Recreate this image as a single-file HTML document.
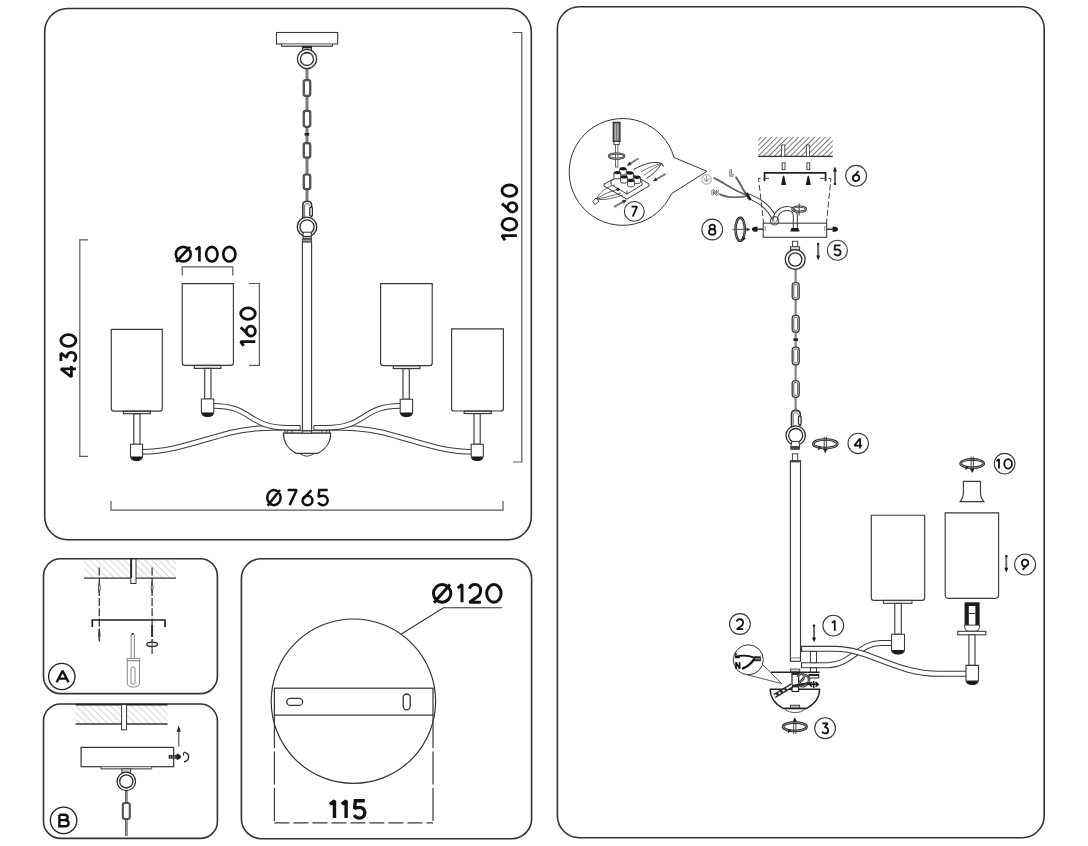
<!DOCTYPE html>
<html><head><meta charset="utf-8">
<style>
html,body{margin:0;padding:0;background:#fff;width:1088px;height:846px;overflow:hidden}
svg{display:block}
text{font-family:"Liberation Sans",sans-serif;fill:#111;stroke:#111;stroke-width:0.55px}
</style></head><body>
<svg width="1088" height="846" viewBox="0 0 1088 846">
<defs>
<pattern id="hatchL" patternUnits="userSpaceOnUse" width="4.9" height="4.9" patternTransform="rotate(-45)">
<line x1="0" y1="0" x2="0" y2="4.9" stroke="#b8b8b8" stroke-width="1.1"/></pattern>
<pattern id="hatchD" patternUnits="userSpaceOnUse" width="3.8" height="3.8" patternTransform="rotate(45)">
<line x1="0" y1="0" x2="0" y2="3.8" stroke="#333" stroke-width="1.3"/></pattern>
</defs>
<rect width="1088" height="846" fill="#fff"/>
<g fill="none" stroke="#333" stroke-width="1.6">
<rect x="44.7" y="8.5" width="486.6" height="531.2" rx="23"/>
<rect x="43.5" y="558.8" width="173.9" height="134.8" rx="17"/>
<rect x="43.5" y="704" width="173.9" height="134.4" rx="17"/>
<rect x="241.4" y="558.7" width="290.2" height="280" rx="20"/>
<rect x="557.4" y="6.8" width="486.8" height="830.9" rx="22"/>
</g>
<g fill="none" stroke="#5a5a5a" stroke-width="1.2">
<path d="M88,239.8 H79.8 V456.3 H88"/>
<path d="M512.5,32.5 H521.8 V462 H513"/>
<path d="M182.2,275.5 V266.8 H232.8 V275.5"/>
<path d="M249,283.5 H259.4 V365.3 H249"/>
<path d="M111,501 V510.1 H503 V501"/>
</g>
<g transform="translate(59.5,378.4) rotate(-90)"><path d="M 9.47,16.40 V 1.40 L 1.40,11.90 H 12.30 M 17.35,1.40 H 25.26 L 20.85,7.40 C 23.98,7.10 26.00,9.35 26.00,11.90 C 26.00,14.60 23.98,16.40 21.40,16.40 C 19.56,16.40 17.90,15.50 16.80,13.85 M32.10,8.90 A5.85,7.50 0 1 0 43.80,8.90 A5.85,7.50 0 1 0 32.10,8.90 Z" fill="none" stroke="#111" stroke-width="2.8" stroke-linecap="butt" stroke-linejoin="miter" stroke-miterlimit="1.6"/></g>
<g transform="translate(500.6,241.6) rotate(-90)"><path d="M 1.40,4.38 L 5.90,1.40 V 16.30 M11.50,8.85 A5.85,7.45 0 1 0 23.20,8.85 A5.85,7.45 0 1 0 11.50,8.85 Z M29.60,11.68 A4.65,4.62 0 1 0 38.90,11.68 A4.65,4.62 0 1 0 29.60,11.68 Z M 37.97,1.40 L 29.79,10.64 M45.30,8.85 A5.65,7.45 0 1 0 56.60,8.85 A5.65,7.45 0 1 0 45.30,8.85 Z" fill="none" stroke="#111" stroke-width="2.8" stroke-linecap="butt" stroke-linejoin="miter" stroke-miterlimit="1.6"/></g>
<g transform="translate(239.3,347.3) rotate(-90)"><path d="M 1.40,4.32 L 5.70,1.40 V 16.00 M11.20,11.47 A4.95,4.53 0 1 0 21.10,11.47 A4.95,4.53 0 1 0 11.20,11.47 Z M 20.11,1.40 L 11.40,10.45 M28.00,8.70 A5.70,7.30 0 1 0 39.40,8.70 A5.70,7.30 0 1 0 28.00,8.70 Z" fill="none" stroke="#111" stroke-width="2.8" stroke-linecap="butt" stroke-linejoin="miter" stroke-miterlimit="1.6"/></g>
<path d="M175.82,254.15 A7.42,7.33 0 1 0 190.68,254.15 A7.42,7.33 0 1 0 175.82,254.15 Z M 176.27,261.91 L 189.93,246.82 M 195.52,249.75 L 199.47,246.82 V 261.48 M206.12,254.15 A5.72,7.33 0 1 0 217.57,254.15 A5.72,7.33 0 1 0 206.12,254.15 Z M223.32,254.15 A6.02,7.33 0 1 0 235.38,254.15 A6.02,7.33 0 1 0 223.32,254.15 Z" fill="none" stroke="#111" stroke-width="2.65" stroke-linecap="butt" stroke-linejoin="miter" stroke-miterlimit="1.6"/>
<path d="M267.25,497.60 A6.70,7.55 0 1 0 280.65,497.60 A6.70,7.55 0 1 0 267.25,497.60 Z M 267.65,505.60 L 279.98,490.05 M 287.65,490.05 H 296.65 L 289.63,505.15 M302.55,500.47 A4.95,4.68 0 1 0 312.45,500.47 A4.95,4.68 0 1 0 302.55,500.47 Z M 311.46,490.05 L 302.75,499.41 M 327.65,490.05 H 319.29 L 318.53,496.84 C 319.86,496.09 321.28,495.79 322.71,495.79 C 325.75,495.64 327.65,497.90 327.65,500.47 C 327.65,503.34 325.56,505.15 322.90,505.15 C 321.00,505.15 319.29,504.24 318.15,502.58" fill="none" stroke="#111" stroke-width="2.5" stroke-linecap="butt" stroke-linejoin="miter" stroke-miterlimit="1.6"/>
<g fill="none" stroke="#3a3a3a" stroke-width="1.1">
<rect x="276.5" y="32.5" width="61.2" height="11.5" fill="#fff"/>
<path d="M281.5,44 V46.4 H332.5 V44" fill="#bbb" stroke-width="0.9"/>
</g>
<rect x="302.4" y="46.4" width="9" height="6.4" fill="#fff" stroke="#333" stroke-width="1.1"/>
<rect x="302.4" y="46.4" width="9" height="2" fill="#222"/>
<line x1="307" y1="67.5" x2="307" y2="202" stroke="#5a5a5a" stroke-width="2.8"/>
<line x1="307" y1="67.5" x2="307" y2="202" stroke="#9a9a9a" stroke-width="1.12"/>
<circle cx="307" cy="59" r="8.05" fill="none" stroke="#2a2a2a" stroke-width="4.40"/>
<circle cx="307" cy="59" r="8.05" fill="none" stroke="#fff" stroke-width="1.80"/>
<rect x="303.75" y="80.10" width="6.50" height="15.80" rx="2.2" fill="#fff" stroke="#3a3a3a" stroke-width="2.2"/>
<rect x="303.75" y="80.10" width="6.50" height="15.80" rx="2.2" fill="none" stroke="#888" stroke-width="0.5"/>
<rect x="303.75" y="110.90" width="6.50" height="15.90" rx="2.2" fill="#fff" stroke="#3a3a3a" stroke-width="2.2"/>
<rect x="303.75" y="110.90" width="6.50" height="15.90" rx="2.2" fill="none" stroke="#888" stroke-width="0.5"/>
<rect x="303.75" y="143.10" width="6.50" height="14.60" rx="2.2" fill="#fff" stroke="#3a3a3a" stroke-width="2.2"/>
<rect x="303.75" y="143.10" width="6.50" height="14.60" rx="2.2" fill="none" stroke="#888" stroke-width="0.5"/>
<rect x="303.75" y="174.50" width="6.50" height="14.60" rx="2.2" fill="#fff" stroke="#3a3a3a" stroke-width="2.2"/>
<rect x="303.75" y="174.50" width="6.50" height="14.60" rx="2.2" fill="none" stroke="#888" stroke-width="0.5"/>
<rect x="304.6" y="133" width="4.6" height="2.6" fill="#222"/>
<path d="M302.8,219 V205 Q302.8,201.2 307,201.2 Q311.6,201.2 311.6,205 V217" fill="#fff" stroke="#3a3a3a" stroke-width="1.6"/>
<path d="M304.6,217 V206 Q304.6,203.5 307,203.5 Q309.6,203.5 309.6,206" fill="none" stroke="#555" stroke-width="0.8"/>
<rect x="309.8" y="207.2" width="2.6" height="9" rx="1.2" fill="#fff" stroke="#222" stroke-width="1.2"/>
<circle cx="307" cy="226.9" r="8.43" fill="none" stroke="#2a2a2a" stroke-width="3.95"/>
<circle cx="307" cy="226.9" r="8.43" fill="none" stroke="#fff" stroke-width="1.35"/>
<rect x="303.1" y="232.2" width="8.2" height="6.8" fill="#fff" stroke="#333" stroke-width="1"/>
<line x1="303.2" y1="236.5" x2="311.2" y2="236.5" stroke="#222" stroke-width="1.2"/><line x1="303.2" y1="238.3" x2="311.2" y2="238.3" stroke="#444" stroke-width="0.9"/>
<rect x="302.6" y="239" width="8.8" height="3.4" fill="#999" stroke="#333" stroke-width="0.9"/>
<g fill="none" stroke="#3a3a3a" stroke-width="1.15">
<rect x="302.4" y="242" width="9.2" height="190.5" fill="#fff"/>
<rect x="194.3" y="365.4" width="26.6" height="3" fill="#e5e5e5"/>
<rect x="123.4" y="411.1" width="27" height="2.6" fill="#e5e5e5"/>
<rect x="393.3" y="365.6" width="26.6" height="3" fill="#e5e5e5"/>
<rect x="464.2" y="411" width="27" height="2.6" fill="#e5e5e5"/>
<rect x="204.7" y="368.4" width="6.3" height="30.6"/>
<rect x="133.8" y="413.7" width="6.2" height="30.6"/>
<rect x="403" y="368.6" width="6.3" height="30.6"/>
<rect x="474" y="413.6" width="6.2" height="30.6"/>
</g>
<path d="M182.2,283.6 H233.4 V362.80 Q233.4,365.4 230.80,365.4 H184.80 Q182.2,365.4 182.2,362.80 Z" fill="none" stroke="#3a3a3a" stroke-width="1.15"/>
<path d="M111.3,329.3 H162.3 V408.50 Q162.3,411.1 159.70,411.1 H113.90 Q111.3,411.1 111.3,408.50 Z" fill="none" stroke="#3a3a3a" stroke-width="1.15"/>
<path d="M380.6,283.6 H432.2 V363.00 Q432.2,365.6 429.60,365.6 H383.20 Q380.6,365.6 380.6,363.00 Z" fill="none" stroke="#3a3a3a" stroke-width="1.15"/>
<path d="M451.6,328.8 H503.4 V408.40 Q503.4,411 500.80,411 H454.20 Q451.6,411 451.6,408.40 Z" fill="none" stroke="#3a3a3a" stroke-width="1.15"/>
<path d="M142.2,451.8 C172,451.8 200,440.5 230,432.8 C252,427.5 268,427.75 290,427.75" fill="none" stroke="#3a3a3a" stroke-width="5.60"/>
<path d="M142.2,451.8 C172,451.8 200,440.5 230,432.8 C252,427.5 268,427.75 290,427.75" fill="none" stroke="#fff" stroke-width="3.60"/>
<path d="M471.8,451.8 C442,451.8 414,440.5 384,432.8 C362,427.5 346,427.75 324,427.75" fill="none" stroke="#3a3a3a" stroke-width="5.60"/>
<path d="M471.8,451.8 C442,451.8 414,440.5 384,432.8 C362,427.5 346,427.75 324,427.75" fill="none" stroke="#fff" stroke-width="3.60"/>
<path d="M213.5,405.85 C253,405.85 247,427.75 288,427.75 L300.6,427.75" fill="none" stroke="#3a3a3a" stroke-width="5.6"/><path d="M213.5,405.85 C253,405.85 247,427.75 288,427.75 L299.6,427.75" fill="none" stroke="#fff" stroke-width="3.6"/>
<path d="M400.5,405.85 C361,405.85 367,427.75 326,427.75 L313.4,427.75" fill="none" stroke="#3a3a3a" stroke-width="5.6"/><path d="M400.5,405.85 C361,405.85 367,427.75 326,427.75 L314.4,427.75" fill="none" stroke="#fff" stroke-width="3.6"/>
<path d="M201.4,399 H213.8 V411.90 Q213.8,416.4 207.60,416.4 Q201.4,416.4 201.4,411.90 Z" fill="#fff" stroke="#3a3a3a" stroke-width="1.1"/>
<path d="M201.80,412.40 H213.40 Q213.00,416.70 207.60,416.70 Q202.20,416.70 201.80,412.40 Z" fill="#1a1a1a"/>
<path d="M130.5,444.3 H142.6 V455.90 Q142.6,460.4 136.55,460.4 Q130.5,460.4 130.5,455.90 Z" fill="#fff" stroke="#3a3a3a" stroke-width="1.1"/>
<path d="M130.90,456.40 H142.20 Q141.80,460.70 136.55,460.70 Q131.30,460.70 130.90,456.40 Z" fill="#1a1a1a"/>
<path d="M400.2,399.2 H412.6 V412.10 Q412.6,416.6 406.40,416.6 Q400.2,416.6 400.2,412.10 Z" fill="#fff" stroke="#3a3a3a" stroke-width="1.1"/>
<path d="M400.60,412.60 H412.20 Q411.80,416.90 406.40,416.90 Q401.00,416.90 400.60,412.60 Z" fill="#1a1a1a"/>
<path d="M471.2,444.2 H483.3 V455.90 Q483.3,460.4 477.25,460.4 Q471.2,460.4 471.2,455.90 Z" fill="#fff" stroke="#3a3a3a" stroke-width="1.1"/>
<path d="M471.60,456.40 H482.90 Q482.50,460.70 477.25,460.70 Q472.00,460.70 471.60,456.40 Z" fill="#1a1a1a"/>
<g fill="#fff" stroke="#3a3a3a" stroke-width="1.1">
<rect x="285" y="430.6" width="44.4" height="2.6"/>
<path d="M287.5,430.6 V433.2 M292,430.6 V433.2 M322,430.6 V433.2 M326.5,430.6 V433.2" fill="none" stroke-width="0.8"/>
<path d="M283.4,433.2 H330.7 C330.7,442 325.5,449.5 317.7,453.4 H296 C288.5,449.5 283.4,442 283.4,433.2 Z" stroke-width="1.25"/>
<path d="M300,453.6 Q307,458.8 314,453.6" fill="none" stroke-width="1"/>
<rect x="302.4" y="430.8" width="9.2" height="2.4" fill="#ccc" stroke-width="0.9"/>
</g>
<rect x="84.2" y="559.6" width="91.8" height="18.6" fill="url(#hatchL)"/>
<line x1="84.1" y1="578.2" x2="176" y2="578.2" stroke="#333" stroke-width="1.3"/>
<rect x="130.8" y="559" width="5.2" height="24.5" fill="#fff" stroke="#333" stroke-width="1"/>
<line x1="131.3" y1="559" x2="131.3" y2="578" stroke="#222" stroke-width="1.6"/>
<g stroke="#3a3a3a" stroke-width="1.3" stroke-dasharray="8,2.2">
<line x1="99.3" y1="567.5" x2="99.3" y2="641.6"/>
<line x1="152.1" y1="567.5" x2="152.1" y2="653.9"/>
</g>
<g fill="#fff" stroke="#444" stroke-width="1">
<path d="M99.3,582 Q101.2,587.5 99.3,593.5 Q97.4,587.5 99.3,582 Z"/>
<path d="M152.1,581.9 Q154,587.5 152.1,593.1 Q150.2,587.5 152.1,581.9 Z"/>
</g>
<path d="M99.3,628.5 Q100.9,634.5 99.3,640.5 Q97.7,634.5 99.3,628.5 Z" fill="#555" stroke="#333" stroke-width="0.8"/>
<line x1="152.1" y1="625" x2="152.1" y2="637" stroke="#333" stroke-width="2"/>
<path d="M92.3,627 V620 H165 V627" fill="none" stroke="#222" stroke-width="1.7"/>
<ellipse cx="152.1" cy="644.3" rx="5.3" ry="2.2" fill="#fff" stroke="#222" stroke-width="1.3"/>
<line x1="152.1" y1="640" x2="152.1" y2="649" stroke="#444" stroke-width="1"/>
<g fill="#fff" stroke="#888" stroke-width="1">
<path d="M131.1,658.4 V635 L132.8,633 L134.4,635 V658.4"/>
<rect x="127.1" y="658.4" width="12.6" height="2.4"/>
<path d="M127.3,660.8 H139.5 V683 Q139.5,687.1 133.4,687.1 Q127.3,687.1 127.3,683 Z"/>
<rect x="131" y="666.9" width="4" height="17.4" rx="2"/>
</g>
<circle cx="132.8" cy="634" r="1.1" fill="#333"/>
<circle cx="61.8" cy="676.5" r="13.2" fill="none" stroke="#222" stroke-width="1.3"/>
<path d="M 56.70,682.30 L 62.60,670.70 L 68.50,682.30 M 59.06,678.59 H 66.14" fill="none" stroke="#111" stroke-width="2.4" stroke-linecap="butt" stroke-linejoin="miter" stroke-miterlimit="1.6"/>
<rect x="75.6" y="704.8" width="92" height="19.2" fill="url(#hatchL)"/>
<line x1="75.6" y1="704.6" x2="167.6" y2="704.6" stroke="#222" stroke-width="1.8"/>
<line x1="75.6" y1="724" x2="167.6" y2="724" stroke="#333" stroke-width="1.4"/>
<rect x="121.6" y="704.5" width="5" height="25.3" fill="#fff" stroke="#333" stroke-width="1"/>
<rect x="81.1" y="747.4" width="92.6" height="19.3" fill="#fff" stroke="#333" stroke-width="1.2"/>
<path d="M100.9,766.7 V768.9 H151.7 V766.7" fill="#e0e0e0" stroke="#444" stroke-width="1"/>
<rect x="121.9" y="768.9" width="8.8" height="4.6" fill="#fff" stroke="#333" stroke-width="1"/>
<line x1="122" y1="771" x2="130.6" y2="771" stroke="#666" stroke-width="0.8"/>
<line x1="126.3" y1="789" x2="126.3" y2="836" stroke="#5a5a5a" stroke-width="2.6"/>
<line x1="126.3" y1="789" x2="126.3" y2="836" stroke="#9a9a9a" stroke-width="1.04"/>
<circle cx="126.3" cy="781.4" r="7.90" fill="none" stroke="#2a2a2a" stroke-width="3.90"/>
<circle cx="126.3" cy="781.4" r="7.90" fill="none" stroke="#fff" stroke-width="1.30"/>
<rect x="122.80" y="803.00" width="7.00" height="16.00" rx="2.2" fill="#fff" stroke="#3a3a3a" stroke-width="2.0"/>
<rect x="122.80" y="803.00" width="7.00" height="16.00" rx="2.2" fill="none" stroke="#888" stroke-width="0.5"/>
<rect x="168.7" y="754.9" width="8.2" height="3.8" fill="#2a2a2a"/>
<path d="M170.5,755.2 V758.4 M172.6,755.2 V758.4 M174.7,755.2 V758.4" stroke="#aaa" stroke-width="0.7"/>
<path d="M176.6,753.6 Q180.5,754.5 181.2,756.8 Q180.5,759.1 176.6,760 Z" fill="#1a1a1a"/>
<path d="M184.2,752.2 Q188.8,753.5 188.6,757 Q188.4,761 184,762" fill="none" stroke="#222" stroke-width="1.4"/>
<path d="M184.2,752.2 Q182.6,753.8 183.8,755.5" fill="none" stroke="#222" stroke-width="1.1"/>
<line x1="178.7" y1="746.5" x2="178.7" y2="730.5" stroke="#777" stroke-width="1.5"/>
<path d="M176.6,731.8 L178.7,725.6 L180.8,731.8 Z" fill="#222"/>
<circle cx="63.6" cy="820.4" r="13.2" fill="none" stroke="#222" stroke-width="1.3"/>
<path d="M 59.38,814.70 H 64.28 C 66.68,814.70 67.64,816.09 67.64,817.48 C 67.64,819.11 66.49,820.15 64.28,820.15 H 59.38 M 64.28,820.15 C 67.06,820.15 68.60,821.43 68.60,823.17 C 68.60,825.14 67.16,826.30 64.57,826.30 H 59.38 V 814.70" fill="none" stroke="#111" stroke-width="2.4" stroke-linecap="butt" stroke-linejoin="miter" stroke-miterlimit="1.6"/>
<circle cx="353.4" cy="701.2" r="82.2" fill="none" stroke="#333" stroke-width="1.2"/>
<rect x="274.4" y="688.2" width="158.6" height="26.9" fill="none" stroke="#333" stroke-width="1.2"/>
<rect x="286.8" y="698.4" width="15.8" height="7" rx="3.5" fill="none" stroke="#333" stroke-width="1.3"/>
<rect x="403.2" y="694" width="7" height="15.8" rx="3.5" fill="none" stroke="#333" stroke-width="1.3"/>
<path d="M274.4,715.1 V823.5 M433,715.1 V823.5" fill="none" stroke="#3a3a3a" stroke-width="1.2" stroke-dasharray="33,3.5"/>
<path d="M274.4,822.8 H433" fill="none" stroke="#3a3a3a" stroke-width="1.2" stroke-dasharray="15,4"/>
<path d="M401.4,634 L443.4,607.7 H502.2" fill="none" stroke="#333" stroke-width="1.1"/>
<path d="M 329.80,804.26 L 334.50,800.80 V 818.10 M 341.70,804.26 L 346.10,800.80 V 818.10 M 364.80,800.80 H 355.38 L 354.53,808.59 C 356.03,807.72 357.63,807.37 359.24,807.37 C 362.66,807.20 364.80,809.80 364.80,812.74 C 364.80,816.02 362.45,818.10 359.45,818.10 C 357.31,818.10 355.38,817.06 354.10,815.16" fill="none" stroke="#111" stroke-width="3.4" stroke-linecap="butt" stroke-linejoin="miter" stroke-miterlimit="1.6"/>
<path d="M433.50,593.40 A8.65,8.80 0 1 0 450.80,593.40 A8.65,8.80 0 1 0 433.50,593.40 Z M 434.02,602.73 L 449.94,584.60 M 457.70,588.12 L 462.00,584.60 V 602.20 M 469.43,588.82 C 470.37,585.83 472.48,584.60 475.05,584.60 C 478.44,584.60 480.67,587.24 480.67,590.58 C 480.67,592.70 479.96,594.28 478.56,595.86 L 469.43,602.20 H 480.90 M486.70,593.40 A7.20,8.80 0 1 0 501.10,593.40 A7.20,8.80 0 1 0 486.70,593.40 Z" fill="none" stroke="#111" stroke-width="3.0" stroke-linecap="butt" stroke-linejoin="miter" stroke-miterlimit="1.6"/>
<path d="M671.3,193.8 A53.4,53.4 0 1 1 674.0,157.5 L707,171.3 Z" fill="none" stroke="#333" stroke-width="1"/>
<rect x="613.2" y="122.3" width="6.8" height="19.2" fill="#777" stroke="#222" stroke-width="1.1"/>
<line x1="615.4" y1="124" x2="615.4" y2="140" stroke="#ddd" stroke-width="0.7"/><line x1="617.8" y1="124" x2="617.8" y2="140" stroke="#ddd" stroke-width="0.7"/>
<rect x="614" y="141.5" width="5.2" height="3" fill="#fff" stroke="#333" stroke-width="0.9"/>
<rect x="615.5" y="144.5" width="2.4" height="22.5" fill="#fff" stroke="#444" stroke-width="0.8"/>
<ellipse cx="616.6" cy="156.1" rx="7.8" ry="2.6" fill="none" stroke="#222" stroke-width="2"/>
<ellipse cx="616.6" cy="156.1" rx="7.8" ry="2.6" fill="none" stroke="#fff" stroke-width="0.5"/>
<path d="M604.1,184 L626.8,197.2 L649,184 L628,171.5 Z" fill="#fff" stroke="#333" stroke-width="1"/>
<path d="M604.1,184 V186 L626.8,199.2 L649,186 V184" fill="#fff" stroke="#333" stroke-width="1"/>
<path d="M611,181 L627,190.5 L642,181.5 L626,172 Z" fill="#fff" stroke="#333" stroke-width="0.9"/>
<path d="M611,181 V184.5 L627,194 L642,185 V181.5" fill="#fff" stroke="#333" stroke-width="0.9"/>
<path d="M627,190.5 V194" stroke="#333" stroke-width="0.9"/>
<path d="M619.6,168.8 V173.60000000000002 A3.4,1.5 0 0 0 626.4,173.60000000000002 V168.8" fill="#fff" stroke="#333" stroke-width="0.9"/>
<ellipse cx="623" cy="168.8" rx="3.4" ry="1.7" fill="#1a1a1a"/>
<path d="M626.6,173 V177.8 A3.4,1.5 0 0 0 633.4,177.8 V173" fill="#fff" stroke="#333" stroke-width="0.9"/>
<ellipse cx="630" cy="173" rx="3.4" ry="1.7" fill="#1a1a1a"/>
<path d="M633.8000000000001,177.3 V182.10000000000002 A3.4,1.5 0 0 0 640.6,182.10000000000002 V177.3" fill="#fff" stroke="#333" stroke-width="0.9"/>
<ellipse cx="637.2" cy="177.3" rx="3.4" ry="1.7" fill="#1a1a1a"/>
<path d="M613.9,172.6 V177.4 A3.4,1.5 0 0 0 620.6999999999999,177.4 V172.6" fill="#fff" stroke="#333" stroke-width="0.9"/>
<ellipse cx="617.3" cy="172.6" rx="3.4" ry="1.7" fill="#1a1a1a"/>
<path d="M620.6,176.9 V181.70000000000002 A3.4,1.5 0 0 0 627.4,181.70000000000002 V176.9" fill="#fff" stroke="#333" stroke-width="0.9"/>
<ellipse cx="624" cy="176.9" rx="3.4" ry="1.7" fill="#1a1a1a"/>
<path d="M627.6,180.6 V185.4 A3.4,1.5 0 0 0 634.4,185.4 V180.6" fill="#fff" stroke="#333" stroke-width="0.9"/>
<ellipse cx="631" cy="180.6" rx="3.4" ry="1.7" fill="#1a1a1a"/>
<circle cx="618" cy="189.3" r="1.6" fill="#111"/>
<path d="M596.5,199 C603,194 612,191 619,189 M596.5,199 C605,198 614,195 621,193 M596.5,199 C601,190 609,186 615,185 M596.5,199 C606,201 616,197 623,195" fill="none" stroke="#444" stroke-width="0.8"/>
<path d="M592.6,201.5 L596,198 L598.8,201 L595,204.8 Z" fill="#fff" stroke="#333" stroke-width="0.9"/>
<path d="M633.5,169.6 C645,163 655,161 661.5,163.5 C658,170 652,175 646.5,178.5" fill="none" stroke="#333" stroke-width="1"/>
<path d="M641,172 C648,167.5 655,165 661.5,163.5 M644,175.5 C651,170 656,167 661.5,163.5" fill="none" stroke="#555" stroke-width="0.8"/>
<path d="M661.5,163.5 L663.5,166.5" stroke="#333" stroke-width="1.2"/>
<line x1="638.5" y1="158.4" x2="628" y2="165" stroke="#333" stroke-width="1.6"/>
<line x1="638.5" y1="158.4" x2="628" y2="165" stroke="#fff" stroke-width="0.5"/>
<path d="M626.7,165.8 L629.5,161.7 L631.6,165.1 Z" fill="#333"/>
<line x1="665.5" y1="174" x2="654" y2="180.6" stroke="#333" stroke-width="1.6"/>
<line x1="665.5" y1="174" x2="654" y2="180.6" stroke="#fff" stroke-width="0.5"/>
<path d="M652.7,181.3 L655.6,177.4 L657.6,180.8 Z" fill="#333"/>
<line x1="614" y1="207" x2="625.5" y2="200.5" stroke="#333" stroke-width="1.6"/>
<line x1="614" y1="207" x2="625.5" y2="200.5" stroke="#fff" stroke-width="0.5"/>
<path d="M626.8,199.8 L623.9,203.7 L621.9,200.2 Z" fill="#333"/>
<circle cx="634.3" cy="211.4" r="9.9" fill="#fff" stroke="#3a3a3a" stroke-width="1.1"/>
<path d="M 631.52,206.57 H 637.08 L 632.74,216.62" fill="none" stroke="#111" stroke-width="1.75" stroke-linecap="butt" stroke-linejoin="miter" stroke-miterlimit="1.6"/>
<circle cx="706.5" cy="179.4" r="4.8" fill="#fff" stroke="#999" stroke-width="1"/>
<path d="M704,177.5 L706.5,182 L709,177.5 M706.5,175.5 V182 M703.5,179 Q706.5,184 709.5,179" fill="none" stroke="#999" stroke-width="0.8"/>
<path d="M713.6,177.8 C725,183 735,192 748.6,195.6" fill="none" stroke="#3a3a3a" stroke-width="1.7"/>
<path d="M713.6,177.8 C725,183 735,192 748.6,195.6" fill="none" stroke="#aaa" stroke-width="0.5"/>
<path d="M735.5,177 C741,182 742,192 748.6,195.6" fill="none" stroke="#3a3a3a" stroke-width="1.7"/>
<path d="M735.5,177 C741,182 742,192 748.6,195.6" fill="none" stroke="#aaa" stroke-width="0.5"/>
<path d="M719.5,194 C728,198.5 738,197.5 748.6,196" fill="none" stroke="#3a3a3a" stroke-width="1.7"/>
<path d="M719.5,194 C728,198.5 738,197.5 748.6,196" fill="none" stroke="#aaa" stroke-width="0.5"/>
<path d="M 730.65,169.15 V 175.35 H 733.85" fill="none" stroke="#555" stroke-width="2.3" stroke-linecap="butt" stroke-linejoin="miter" stroke-miterlimit="1.6"/>
<path d="M 730.65,169.15 V 175.35 H 733.85" fill="none" stroke="#fff" stroke-width="0.8" stroke-linecap="butt" stroke-linejoin="miter" stroke-miterlimit="1.6"/>
<path d="M 712.65,195.35 V 189.65 L 717.35,195.35 V 189.65" fill="none" stroke="#555" stroke-width="2.3" stroke-linecap="butt" stroke-linejoin="miter" stroke-miterlimit="1.6"/>
<path d="M 712.65,195.35 V 189.65 L 717.35,195.35 V 189.65" fill="none" stroke="#fff" stroke-width="0.8" stroke-linecap="butt" stroke-linejoin="miter" stroke-miterlimit="1.6"/>
<path d="M748,196 C760,200.5 770,208 774.5,219" fill="none" stroke="#3a3a3a" stroke-width="5.60"/>
<path d="M748,196 C760,200.5 770,208 774.5,219" fill="none" stroke="#fff" stroke-width="3.60"/>
<path d="M746.5,193 L750.5,200" stroke="#222" stroke-width="2.6"/>
<path d="M775,221.5 C774.5,206.5 795,204.5 795.3,215.5 L795.3,228.5" fill="none" stroke="#3a3a3a" stroke-width="5.00"/>
<path d="M775,221.5 C774.5,206.5 795,204.5 795.3,215.5 L795.3,228.5" fill="none" stroke="#fff" stroke-width="3.00"/>
<circle cx="774.6" cy="220.8" r="4.2" fill="none" stroke="#555" stroke-width="1.1"/>
<rect x="758.2" y="137" width="74.5" height="19.3" fill="url(#hatchD)"/>
<line x1="758.2" y1="156.3" x2="832.7" y2="156.3" stroke="#333" stroke-width="1.2"/>
<rect x="781.6" y="145" width="3.2" height="11.5" fill="#fff" stroke="#444" stroke-width="0.9"/>
<rect x="806.4" y="145" width="3.2" height="11.5" fill="#fff" stroke="#444" stroke-width="0.9"/>
<rect x="782.2" y="162.8" width="2.8" height="6.8" fill="#fff" stroke="#444" stroke-width="1"/>
<rect x="806.9" y="162.8" width="2.8" height="6.8" fill="#fff" stroke="#444" stroke-width="1"/>
<path d="M764.5,181.3 V172.8 H825.6 V181.3" fill="none" stroke="#222" stroke-width="1.7"/>
<path d="M782,183.5 L783.6,176 L785.2,183.5 Z M781.3,184.3 H785.9" fill="#1a1a1a" stroke="#1a1a1a" stroke-width="1.2"/>
<path d="M806.7,183.5 L808.3,176 L809.9,183.5 Z M806,184.3 H810.6" fill="#1a1a1a" stroke="#1a1a1a" stroke-width="1.2"/>
<path d="M769,178.4 H758.5 L763.6,223 M820,178.4 H830.9 L826.5,223" fill="none" stroke="#444" stroke-width="1" stroke-dasharray="6,2.5"/>
<line x1="835" y1="184.7" x2="835" y2="170.80" stroke="#555" stroke-width="1.9"/>
<line x1="835" y1="184.7" x2="835" y2="170.80" stroke="#888" stroke-width="0.6"/>
<circle cx="835" cy="183.90" r="1.2" fill="#1a1a1a"/>
<path d="M833.10,171.40 L836.90,171.40 L836.20,169.40 L835,166.6 L833.80,169.40 Z" fill="#1a1a1a"/>
<circle cx="856.1" cy="175.8" r="10.4" fill="#fff" stroke="#3a3a3a" stroke-width="1.1"/>
<path d="M852.85,177.91 A3.25,3.12 0 1 0 859.36,177.91 A3.25,3.12 0 1 0 852.85,177.91 Z M 858.70,170.97 L 852.98,177.21" fill="none" stroke="#111" stroke-width="1.75" stroke-linecap="butt" stroke-linejoin="miter" stroke-miterlimit="1.6"/>
<rect x="763.2" y="223.2" width="63.5" height="14.1" fill="none" stroke="#444" stroke-width="1.15"/>
<path d="M790.2,231.6 L791.5,228 H798.3 L799.6,231.6 Z" fill="#1a1a1a"/>
<line x1="765.2" y1="226" x2="765.2" y2="231" stroke="#666" stroke-width="0.8"/><line x1="824.8" y1="226" x2="824.8" y2="231" stroke="#666" stroke-width="0.8"/>
<path d="M763,229.2 H757" stroke="#222" stroke-width="1.4"/><path d="M757.4,226.6 V231.8 Q752,231.8 752,229.2 Q752,226.6 757.4,226.6 Z" fill="#1a1a1a"/>
<path d="M826.8,229.2 H833" stroke="#222" stroke-width="1.4"/><path d="M832.6,226.6 V231.8 Q838,231.8 838,229.2 Q838,226.6 832.6,226.6 Z" fill="#1a1a1a"/>
<ellipse cx="740.2" cy="229.3" rx="4.7" ry="11.6" fill="none" stroke="#1a1a1a" stroke-width="2.4"/>
<ellipse cx="740.2" cy="229.3" rx="4.7" ry="11.6" fill="none" stroke="#aaa" stroke-width="0.7"/>
<path d="M742.2,236 L745.8,238.5 L742.5,241 Z" fill="#1a1a1a"/>
<path d="M732.5,229.4 H749" stroke="#555" stroke-width="1"/><path d="M746.5,227.4 L750.5,229.4 L746.5,231.4 Z" fill="#444"/>
<circle cx="712.2" cy="229.5" r="10.4" fill="#fff" stroke="#3a3a3a" stroke-width="1.1"/>
<path d="M709.47,227.04 A2.73,2.36 0 1 0 714.93,227.04 A2.73,2.36 0 1 0 709.47,227.04 Z M708.95,231.91 A3.25,2.81 0 1 0 715.46,231.91 A3.25,2.81 0 1 0 708.95,231.91 Z" fill="none" stroke="#111" stroke-width="1.75" stroke-linecap="butt" stroke-linejoin="miter" stroke-miterlimit="1.6"/>
<ellipse cx="799.1" cy="209.2" rx="6.8" ry="2.6" fill="none" stroke="#1a1a1a" stroke-width="2"/>
<ellipse cx="799.1" cy="209.2" rx="6.8" ry="2.6" fill="none" stroke="#fff" stroke-width="0.6"/>
<line x1="799.1" y1="203.5" x2="799.1" y2="215.5" stroke="#333" stroke-width="1"/>
<line x1="818.2" y1="243.2" x2="818.2" y2="256.20" stroke="#555" stroke-width="1.9"/>
<line x1="818.2" y1="243.2" x2="818.2" y2="256.20" stroke="#888" stroke-width="0.6"/>
<circle cx="818.2" cy="244.00" r="1.2" fill="#1a1a1a"/>
<path d="M816.30,255.60 L820.10,255.60 L819.40,257.60 L818.2,260.4 L817.00,257.60 Z" fill="#1a1a1a"/>
<circle cx="837.4" cy="250.3" r="10" fill="#fff" stroke="#3a3a3a" stroke-width="1.1"/>
<path d="M 840.54,245.47 H 835.02 L 834.51,250.00 C 835.39,249.49 836.33,249.29 837.27,249.29 C 839.28,249.19 840.54,250.70 840.54,252.41 C 840.54,254.32 839.16,255.52 837.40,255.52 C 836.15,255.52 835.02,254.92 834.26,253.82" fill="none" stroke="#111" stroke-width="1.75" stroke-linecap="butt" stroke-linejoin="miter" stroke-miterlimit="1.6"/>
<rect x="792.5" y="241.3" width="5.2" height="5.5" fill="#fff" stroke="#444" stroke-width="1"/>
<rect x="790.6" y="246.8" width="9" height="4.9" fill="#fff" stroke="#333" stroke-width="1"/>
<line x1="790.8" y1="249.2" x2="799.4" y2="249.2" stroke="#555" stroke-width="0.8"/>
<line x1="795.6" y1="268.5" x2="795.6" y2="411" stroke="#5a5a5a" stroke-width="1.9"/>
<line x1="795.6" y1="268.5" x2="795.6" y2="411" stroke="#9a9a9a" stroke-width="0.76"/>
<circle cx="795.2" cy="259.5" r="8.25" fill="none" stroke="#2a2a2a" stroke-width="4.60"/>
<circle cx="795.2" cy="259.5" r="8.25" fill="none" stroke="#fff" stroke-width="2.00"/>
<rect x="792.20" y="282.70" width="7.00" height="16.90" rx="3" fill="#fff" stroke="#3a3a3a" stroke-width="1.3"/>
<rect x="793.80" y="284.60" width="3.80" height="13.10" rx="1.2" fill="#fff" stroke="#555" stroke-width="0.9"/>
<rect x="792.20" y="315.40" width="7.00" height="16.80" rx="3" fill="#fff" stroke="#3a3a3a" stroke-width="1.3"/>
<rect x="793.80" y="317.30" width="3.80" height="13.00" rx="1.2" fill="#fff" stroke="#555" stroke-width="0.9"/>
<rect x="792.20" y="347.10" width="7.00" height="17.70" rx="3" fill="#fff" stroke="#3a3a3a" stroke-width="1.3"/>
<rect x="793.80" y="349.00" width="3.80" height="13.90" rx="1.2" fill="#fff" stroke="#555" stroke-width="0.9"/>
<rect x="792.20" y="380.60" width="7.00" height="16.70" rx="3" fill="#fff" stroke="#3a3a3a" stroke-width="1.3"/>
<rect x="793.80" y="382.50" width="3.80" height="12.90" rx="1.2" fill="#fff" stroke="#555" stroke-width="0.9"/>
<rect x="793.4" y="338.3" width="4.6" height="2.6" fill="#222"/>
<path d="M791.5,428.5 V414.2 Q791.5,410.4 795.7,410.4 Q800.3,410.4 800.3,414.2 V426" fill="#fff" stroke="#3a3a3a" stroke-width="1.6"/>
<path d="M793.3,426 V415 Q793.3,412.7 795.7,412.7 Q798.3,412.7 798.3,415" fill="none" stroke="#555" stroke-width="0.8"/>
<rect x="798.5" y="415.8" width="2.6" height="9" rx="1.2" fill="#fff" stroke="#222" stroke-width="1.2"/>
<circle cx="795.7" cy="435.5" r="8.35" fill="none" stroke="#2a2a2a" stroke-width="4.00"/>
<circle cx="795.7" cy="435.5" r="8.35" fill="none" stroke="#fff" stroke-width="1.40"/>
<path d="M791.8,441.4 H798.8 L799.8,446.8 H790.8 Z" fill="#fff" stroke="#333" stroke-width="1"/>
<rect x="790.3" y="446.6" width="9.5" height="3.1" fill="#222"/>
<line x1="791" y1="448.1" x2="799" y2="448.1" stroke="#999" stroke-width="0.7"/>
<ellipse cx="825.3" cy="443.8" rx="12" ry="4.3" fill="none" stroke="#222" stroke-width="2.6"/>
<ellipse cx="825.3" cy="443.8" rx="12" ry="4.3" fill="none" stroke="#aaa" stroke-width="0.91"/>
<path d="M824.1999999999999,436.675 V449.3 M826.4,436.675 V449.3" stroke="#333" stroke-width="0.9" fill="none"/>
<path d="M823.0999999999999,449.1 L825.3,453.3 L827.5,449.1 Z" fill="#222"/>
<path d="M818.70,446.38 L818.10,450.60 L821.70,447.67 Z" fill="#222"/>
<circle cx="858.2" cy="443.4" r="10.2" fill="#fff" stroke="#3a3a3a" stroke-width="1.1"/>
<path d="M 860.05,448.62 V 438.57 L 854.36,445.61 H 862.05" fill="none" stroke="#111" stroke-width="1.75" stroke-linecap="butt" stroke-linejoin="miter" stroke-miterlimit="1.6"/>
<rect x="792.4" y="453.8" width="5.3" height="6.8" fill="#fff" stroke="#444" stroke-width="1"/>
<rect x="790.4" y="460.8" width="10.1" height="200.5" fill="#fff" stroke="#3a3a3a" stroke-width="1.15"/>
<rect x="790.4" y="460.6" width="10.1" height="1.8" fill="#444"/>
<line x1="790.4" y1="657.9" x2="800.5" y2="657.9" stroke="#555" stroke-width="0.8"/>
<path d="M871.3,515.2 H924.7 V597.80 Q924.7,600.4 922.10,600.4 H873.90 Q871.3,600.4 871.3,597.80 Z" fill="none" stroke="#3a3a3a" stroke-width="1.15"/>
<path d="M945.2,512.9 H998.6 V595.10 Q998.6,598.3 995.40,598.3 H948.40 Q945.2,598.3 945.2,595.10 Z" fill="none" stroke="#3a3a3a" stroke-width="1.15"/>
<path d="M963.4,481.4 H980.5 V492 Q980.5,498 983.8,501.6 H960.1 Q963.4,498 963.4,492 Z" fill="#fff" stroke="#3a3a3a" stroke-width="1.15"/>
<ellipse cx="972.2" cy="463.6" rx="11.6" ry="4.2" fill="none" stroke="#222" stroke-width="2.6"/>
<ellipse cx="972.2" cy="463.6" rx="11.6" ry="4.2" fill="none" stroke="#aaa" stroke-width="0.91"/>
<path d="M971.1,456.475 V469.1 M973.3000000000001,456.475 V469.1" stroke="#333" stroke-width="0.9" fill="none"/>
<path d="M970.0,468.90000000000003 L972.2,473.1 L974.4000000000001,468.90000000000003 Z" fill="#222"/>
<path d="M965.82,466.12 L965.24,470.30 L968.72,467.38 Z" fill="#222"/>
<circle cx="1004.6" cy="463.7" r="10.3" fill="#fff" stroke="#3a3a3a" stroke-width="1.1"/>
<path d="M 996.50,461.08 L 999.00,459.20 V 468.60 M1004.30,463.90 A3.80,4.70 0 1 0 1011.90,463.90 A3.80,4.70 0 1 0 1004.30,463.90 Z" fill="none" stroke="#111" stroke-width="1.8" stroke-linecap="butt" stroke-linejoin="miter" stroke-miterlimit="1.6"/>
<line x1="1006.3" y1="555.4" x2="1006.3" y2="568.40" stroke="#555" stroke-width="1.8"/>
<line x1="1006.3" y1="555.4" x2="1006.3" y2="568.40" stroke="#888" stroke-width="0.6"/>
<circle cx="1006.3" cy="556.20" r="1.2" fill="#1a1a1a"/>
<path d="M1004.40,567.80 L1008.20,567.80 L1007.50,569.80 L1006.3,572.6 L1005.10,569.80 Z" fill="#1a1a1a"/>
<circle cx="1025.1" cy="564.5" r="10.5" fill="#fff" stroke="#3a3a3a" stroke-width="1.1"/>
<path d="M1021.84,562.99 A3.26,3.32 0 1 0 1028.36,562.99 A3.26,3.32 0 1 0 1021.84,562.99 Z M 1028.29,563.90 L 1022.63,569.73" fill="none" stroke="#111" stroke-width="1.75" stroke-linecap="butt" stroke-linejoin="miter" stroke-miterlimit="1.6"/>
<rect x="883.4" y="600.4" width="28.6" height="3" fill="#e5e5e5" stroke="#3a3a3a" stroke-width="1"/>
<rect x="894.8" y="603.4" width="6.5" height="30.8" fill="#fff" stroke="#3a3a3a" stroke-width="1.1"/>
<path d="M964.6,602.3 H979.6 V625.1 H964.6 Z" fill="#1a1a1a"/>
<path d="M968.8,606 H975.4 V625.1 H968.8 Z" fill="#fff"/><line x1="968.8" y1="613.5" x2="975.4" y2="613.5" stroke="#222" stroke-width="0.9"/>
<path d="M964.6,625.1 H979.6 Q979.6,631.3 975,631.3 H969 Q964.6,631.3 964.6,625.1 Z" fill="#fff" stroke="#3a3a3a" stroke-width="1"/>
<rect x="957.8" y="631.3" width="28" height="3.5" fill="#fff" stroke="#3a3a3a" stroke-width="1.1"/>
<rect x="968.9" y="634.8" width="6.1" height="30.6" fill="#fff" stroke="#3a3a3a" stroke-width="1.1"/>
<path d="M801,665.2 H828 C850,665.2 860,643 880,643 H892" fill="none" stroke="#3a3a3a" stroke-width="6"/><path d="M802,665.2 H828 C850,665.2 860,643 880,643 H892" fill="none" stroke="#fff" stroke-width="3.9"/>
<path d="M801,648.85 H835 C870,648.85 895,673.8 939,673.8 H966.5" fill="none" stroke="#3a3a3a" stroke-width="6"/><path d="M802,648.85 H835 C870,648.85 895,673.8 939,673.8 H966.5" fill="none" stroke="#fff" stroke-width="3.9"/>
<path d="M801.6,646 V651.7 M801.6,662.5 V668" stroke="#3a3a3a" stroke-width="1.1"/>
<path d="M891.5,634.2 H904.5 V649.40 Q904.5,653.9 898.00,653.9 Q891.5,653.9 891.5,649.40 Z" fill="#fff" stroke="#3a3a3a" stroke-width="1.1"/>
<path d="M891.90,649.90 H904.10 Q903.70,654.20 898.00,654.20 Q892.30,654.20 891.90,649.90 Z" fill="#1a1a1a"/>
<path d="M966,665.4 H978.5 V679.90 Q978.5,684.4 972.25,684.4 Q966,684.4 966,679.90 Z" fill="#fff" stroke="#3a3a3a" stroke-width="1.1"/>
<path d="M966.40,680.40 H978.10 Q977.70,684.70 972.25,684.70 Q966.80,684.70 966.40,680.40 Z" fill="#1a1a1a"/>
<rect x="810.4" y="651.5" width="6.1" height="11.2" fill="#fff" stroke="#3a3a3a" stroke-width="1"/>
<rect x="810.4" y="667.9" width="6.1" height="4.5" fill="#fff" stroke="#3a3a3a" stroke-width="1"/>
<line x1="814.1" y1="624.8" x2="814.1" y2="638.00" stroke="#555" stroke-width="1.8"/>
<line x1="814.1" y1="624.8" x2="814.1" y2="638.00" stroke="#888" stroke-width="0.6"/>
<circle cx="814.1" cy="625.60" r="1.2" fill="#1a1a1a"/>
<path d="M812.20,637.40 L816.00,637.40 L815.30,639.40 L814.1,642.2 L812.90,639.40 Z" fill="#1a1a1a"/>
<circle cx="833.3" cy="625.6" r="10.4" fill="#fff" stroke="#3a3a3a" stroke-width="1.1"/>
<path d="M 831.81,622.79 L 834.78,620.78 V 630.83" fill="none" stroke="#111" stroke-width="1.75" stroke-linecap="butt" stroke-linejoin="miter" stroke-miterlimit="1.6"/>
<circle cx="739.9" cy="624" r="10.4" fill="#fff" stroke="#3a3a3a" stroke-width="1.1"/>
<path d="M 736.72,621.59 C 737.25,619.88 738.44,619.18 739.90,619.18 C 741.82,619.18 743.08,620.68 743.08,622.59 C 743.08,623.80 742.68,624.70 741.89,625.61 L 736.72,629.23 H 743.21" fill="none" stroke="#111" stroke-width="1.75" stroke-linecap="butt" stroke-linejoin="miter" stroke-miterlimit="1.6"/>
<circle cx="825.1" cy="728.2" r="10.4" fill="#fff" stroke="#3a3a3a" stroke-width="1.1"/>
<path d="M 822.34,723.38 H 827.74 L 824.72,727.40 C 826.86,727.19 828.24,728.70 828.24,730.41 C 828.24,732.22 826.86,733.43 825.10,733.43 C 823.85,733.43 822.72,732.82 821.96,731.72" fill="none" stroke="#111" stroke-width="1.75" stroke-linecap="butt" stroke-linejoin="miter" stroke-miterlimit="1.6"/>
<ellipse cx="794.8" cy="726.8" rx="11.8" ry="4.2" fill="none" stroke="#222" stroke-width="2.6"/>
<ellipse cx="794.8" cy="726.8" rx="11.8" ry="4.2" fill="none" stroke="#aaa" stroke-width="0.91"/>
<path d="M793.6999999999999,733.925 V721.3 M795.9,733.925 V721.3" stroke="#333" stroke-width="0.9" fill="none"/>
<path d="M792.5999999999999,721.5 L794.8,717.3 L797.0,721.5 Z" fill="#222"/>
<path d="M788.31,729.32 L787.72,733.50 L791.26,730.58 Z" fill="#222"/>
<rect x="790.4" y="669.1" width="9.3" height="3.1" fill="#ddd" stroke="#3a3a3a" stroke-width="0.9"/>
<line x1="771" y1="672.3" x2="819.6" y2="672.3" stroke="#222" stroke-width="1.6"/>
<path d="M770.2,689.2 H819.6 C819.6,697.5 814,704.5 806.2,708.6 H783.6 C775.8,704.5 770.2,697.5 770.2,689.2 Z" fill="#fff" stroke="#222" stroke-width="1.4"/>
<path d="M785.2,709.4 C789,713.5 801,713.5 804.6,709.4" fill="none" stroke="#555" stroke-width="1"/>
<rect x="790.4" y="705.2" width="9.3" height="3.4" fill="#bbb" stroke="#333" stroke-width="0.9"/>
<line x1="783.6" y1="708.3" x2="806.2" y2="708.3" stroke="#222" stroke-width="1.5"/>
<rect x="792" y="672.3" width="6.6" height="19.2" fill="#fff" stroke="#222" stroke-width="1.2"/>
<rect x="792" y="672.3" width="6.6" height="2.6" fill="#222"/><rect x="792" y="685" width="6.6" height="2.4" fill="#333"/>
<path d="M797.5,677 C799,672.5 804.5,672.5 804,677 C803.5,681 798,681 799.5,684.5 C801,688 808.5,686 809,680.5 C809.5,675.5 805,674 804,676.5" fill="none" stroke="#2a2a2a" stroke-width="2.4"/>
<path d="M797.5,677 C799,672.5 804.5,672.5 804,677 C803.5,681 798,681 799.5,684.5 C801,688 808.5,686 809,680.5 C809.5,675.5 805,674 804,676.5" fill="none" stroke="#bbb" stroke-width="0.8"/>
<rect x="809.1" y="674.4" width="9.7" height="3.6" fill="#fff" stroke="#222" stroke-width="1"/><rect x="809.1" y="674.4" width="9.7" height="1.6" fill="#222"/>
<path d="M809.5,684.3 H818 M812,682 L809.3,684.3 L812,686.6 M815.5,682 L818.2,684.3 L815.5,686.6 M813.7,681 V688" fill="none" stroke="#111" stroke-width="1.5"/>
<path d="M774.5,696 L792,685.5" stroke="#222" stroke-width="4.4"/><path d="M774.5,696 L792,685.5" stroke="#fff" stroke-width="2"/>
<path d="M776.5,694.8 L778.5,693.6 M780.5,692.4 L782.5,691.2 M784.5,690 L786.5,688.8" stroke="#222" stroke-width="2.6"/>
<path d="M792,686 L809,683" stroke="#222" stroke-width="1.8"/>
<circle cx="748.3" cy="659.8" r="15" fill="#fff" stroke="#333" stroke-width="1"/>
<path d="M762.4,664.3 L781.6,683.5 M747.2,674.8 L781.6,683.5" fill="none" stroke="#444" stroke-width="0.9"/>
<path d="M735,657 Q745,654 754,657.5" fill="none" stroke="#111" stroke-width="1.8"/>
<path d="M742,668.8 Q750,666 754.5,658.5" fill="none" stroke="#111" stroke-width="2.4"/>
<rect x="754.5" y="656.8" width="6" height="4" fill="#333" stroke="#111" stroke-width="0.8"/><line x1="755" y1="658.8" x2="760.5" y2="658.8" stroke="#ccc" stroke-width="0.7"/>
<path d="M 735.90,652.70 V 657.50 H 739.80" fill="none" stroke="#111" stroke-width="1.4" stroke-linecap="butt" stroke-linejoin="miter" stroke-miterlimit="1.6"/>
<path d="M 736.05,668.65 V 662.35 L 739.65,668.65 V 662.35" fill="none" stroke="#111" stroke-width="1.7" stroke-linecap="butt" stroke-linejoin="miter" stroke-miterlimit="1.6"/>
</svg>
</body></html>
